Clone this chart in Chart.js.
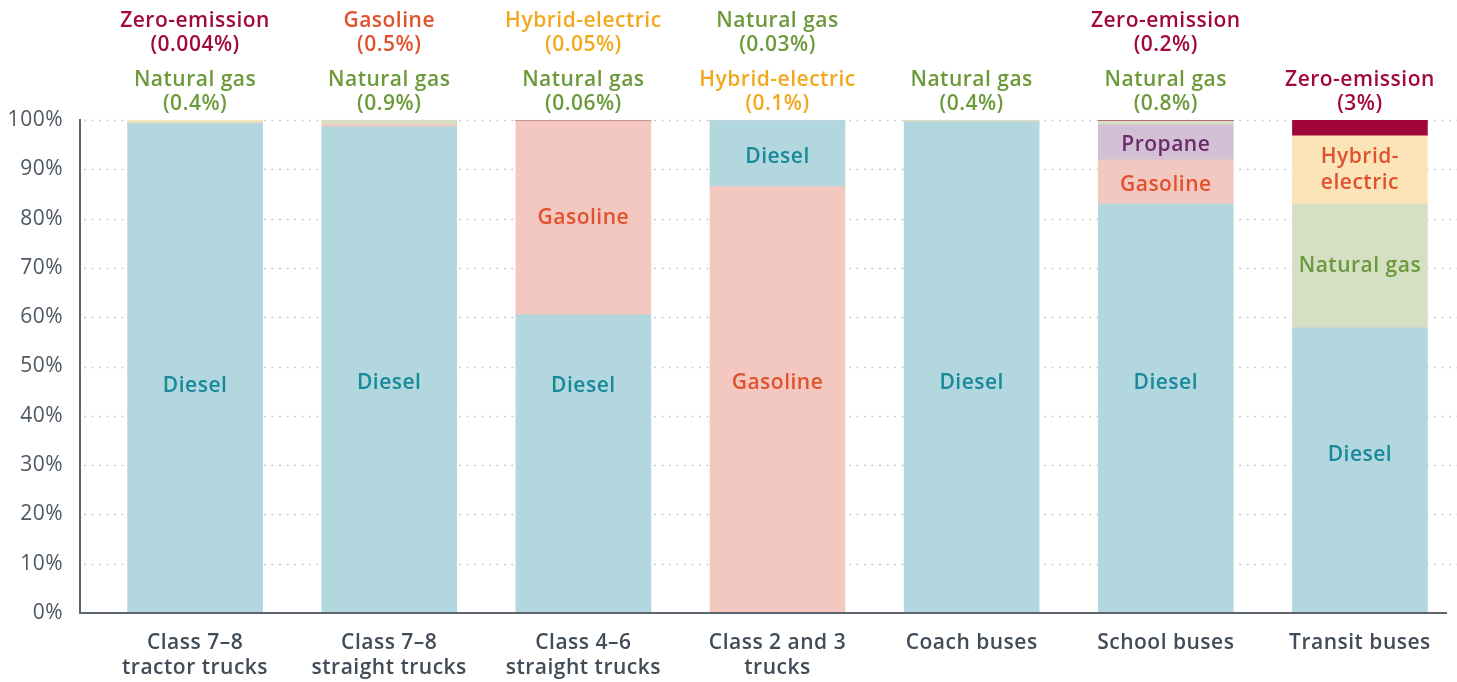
<!DOCTYPE html>
<html>
<head>
<meta charset="utf-8">
<script src="https://cdn.jsdelivr.net/npm/chart.js@4.4.0/dist/chart.umd.min.js"></script>
<style>
  html, body { margin: 0; padding: 0; background: #fff; }
  #wrap { width: 1457px; height: 682px; }
</style>
</head>
<body>
<div id="wrap"><canvas id="chart" width="1457" height="682"></canvas></div>
<script>
// categories and shares (%) per fuel
const categories = [
    ["Class 7\u20138", "tractor trucks"],
    ["Class 7\u20138", "straight trucks"],
    ["Class 4\u20136", "straight trucks"],
    ["Class 2 and 3", "trucks"],
    "Coach buses",
    "School buses",
    "Transit buses"
];
const diesel       = [99.2, 98.6, 60.5, 13.4, 99.6, 83.0, 57.8];
const gasoline     = [0,    0.5,  39.2, 86.5, 0,    8.9,  0];
const propane      = [0,    0,    0,    0,    0,    7.1,  0];
const naturalGas   = [0.4,  0.9,  0.06, 0.03, 0.4,  0.8,  25.1];
const hybrid       = [0.4,  0,    0.05, 0.1,  0,    0,    13.9];
const zeroEmission = [0.004, 0,   0.2,  0,    0,    0.2,  3.2];

const yTicks = [0, 10, 20, 30, 40, 50, 60, 70, 80, 90, 100];

// small-share notes printed above the bars
const upperNotes = ["Zero-emission (0.004%)", "Gasoline (0.5%)", "Hybrid-electric (0.05%)", "Natural gas (0.03%)", "", "Zero-emission (0.2%)", ""];
const lowerNotes = ["Natural gas (0.4%)", "Natural gas (0.9%)", "Natural gas (0.06%)", "Hybrid-electric (0.1%)", "Natural gas (0.4%)", "Natural gas (0.8%)", "Zero-emission (3%)"];

// where the label of the bottom segment sits (axis value), the rest are centred
const bottomLabelAt = [46, 46.7, 46, 46.7, 46.7, 46.7, 32];

const FONT = "'Open Sans', 'Noto Sans', sans-serif";
const SPACING = "0.5px";
const noteColors = {
    "Zero-emission": "#a1093d",
    "Gasoline": "#e1512d",
    "Hybrid-electric": "#f2a81d",
    "Natural gas": "#6c9a3b"
};

// gasoline sits under diesel only for class 2 and 3
const gasUnder = gasoline.map((v, i) => i === 3 ? v : 0);
const gasOver = gasoline.map((v, i) => i === 3 ? 0 : v);

const series = [
    { label: "Gasoline", data: gasUnder, bg: "#f2c8c0", text: "Gasoline", tc: "#e1512d" },
    { label: "Diesel", data: diesel, bg: "#b2d7de", text: "Diesel", tc: "#17899b" },
    { label: "Gasoline ", data: gasOver, bg: "#f2c8c0", text: "Gasoline", tc: "#e1512d" },
    { label: "Propane", data: propane, bg: "#d3c0d4", text: "Propane", tc: "#6b2c6b" },
    { label: "Natural gas", data: naturalGas, bg: "#d4dfc3", text: "Natural gas", tc: "#6c9a3b" },
    { label: "Hybrid-electric", data: hybrid, bg: "#fbe4b7", text: "Hybrid-\nelectric", tc: "#e1512d" },
    { label: "Zero-emission", data: zeroEmission, bg: "#a1063a", text: "Zero-emission", tc: "#fff" }
];

const decor = {
    id: "decor",
    beforeDraw(chart) {
        // wider tracking for every text the chart writes
        chart.ctx.letterSpacing = SPACING;
    },
    beforeDatasetsDraw(chart) {
        const { ctx, scales: { y } } = chart;
        ctx.save();
        ctx.strokeStyle = "#c9cccf";
        ctx.lineWidth = 1.5;
        ctx.setLineDash([2, 5.5]);
        yTicks.forEach(t => {
            if (t === 0) return;
            const py = Math.round(y.getPixelForValue(t)) + 0.5;
            ctx.beginPath();
            ctx.moveTo(84, py);
            ctx.lineTo(chart.width, py);
            ctx.stroke();
        });
        ctx.restore();
    },
    afterDatasetsDraw(chart) {
        const { ctx, scales: { x, y } } = chart;
        ctx.save();
        ctx.letterSpacing = SPACING;
        // axis lines
        ctx.strokeStyle = "#5d6670";
        ctx.lineWidth = 2;
        ctx.beginPath();
        ctx.moveTo(80, y.getPixelForValue(100) - 1);
        ctx.lineTo(80, y.getPixelForValue(0));
        ctx.lineTo(1447, y.getPixelForValue(0));
        ctx.stroke();

        // labels inside the large segments
        ctx.textAlign = "center";
        ctx.textBaseline = "middle";
        ctx.font = "600 21px " + FONT;
        chart.data.datasets.forEach((ds, di) => {
            const meta = chart.getDatasetMeta(di);
            meta.data.forEach((bar, i) => {
                if (ds.data[i] < 5) return;
                const lines = series[di].text.split("\n");
                const isBottom = chart.data.datasets.slice(0, di).every(d => !d.data[i]);
                let mid = isBottom ? y.getPixelForValue(bottomLabelAt[i]) : (bar.y + bar.base) / 2;
                if (!isBottom && lines.length === 1 && ds.data[i] < 15) mid += 3;
                ctx.fillStyle = series[di].tc;
                lines.forEach((ln, k) => {
                    ctx.fillText(ln, bar.x, mid + (k - (lines.length - 1) / 2) * 26);
                });
            });
        });

        // notes above the bars
        const drawNote = (txt, cx, top) => {
            if (!txt) return;
            const cut = txt.indexOf(" (");
            const name = txt.slice(0, cut);
            ctx.fillStyle = noteColors[name];
            ctx.fillText(name, cx, top);
            ctx.fillText(txt.slice(cut + 1), cx, top + 24);
        };
        categories.forEach((c, i) => {
            const cx = x.getPixelForValue(i);
            drawNote(upperNotes[i], cx, 21);
            drawNote(lowerNotes[i], cx, 80);
        });
        ctx.restore();
    }
};

new Chart(document.getElementById("chart"), {
    type: "bar",
    data: {
        labels: categories,
        datasets: series.map(s => ({
            label: s.label,
            data: s.data,
            backgroundColor: s.bg,
            borderWidth: 0,
            barThickness: 135
        }))
    },
    options: {
        responsive: false,
        animation: false,
        layout: { padding: { top: 120, left: 0, right: 0, bottom: 0 } },
        plugins: {
            legend: { display: false },
            tooltip: { enabled: false }
        },
        scales: {
            x: {
                stacked: true,
                grid: { display: false, drawTicks: false },
                border: { display: false },
                ticks: {
                    color: "#414c57",
                    font: { family: FONT, size: 21, weight: "600", lineHeight: 1.2 },
                    padding: 17,
                    maxRotation: 0,
                    autoSkip: false
                },
                afterFit: (s) => { s.height = 69; }
            },
            y: {
                stacked: true,
                min: 0,
                max: 100,
                grid: { display: false, drawTicks: false },
                border: { display: false },
                afterBuildTicks: (s) => { s.ticks = yTicks.map(v => ({ value: v })); },
                ticks: {
                    color: "#4d5761",
                    font: { family: FONT, size: 21 },
                    padding: 35,
                    callback: (v) => v + "%"
                },
                afterFit: (s) => { s.width = 98; }
            }
        }
    },
    plugins: [decor]
});
</script>
</body>
</html>
